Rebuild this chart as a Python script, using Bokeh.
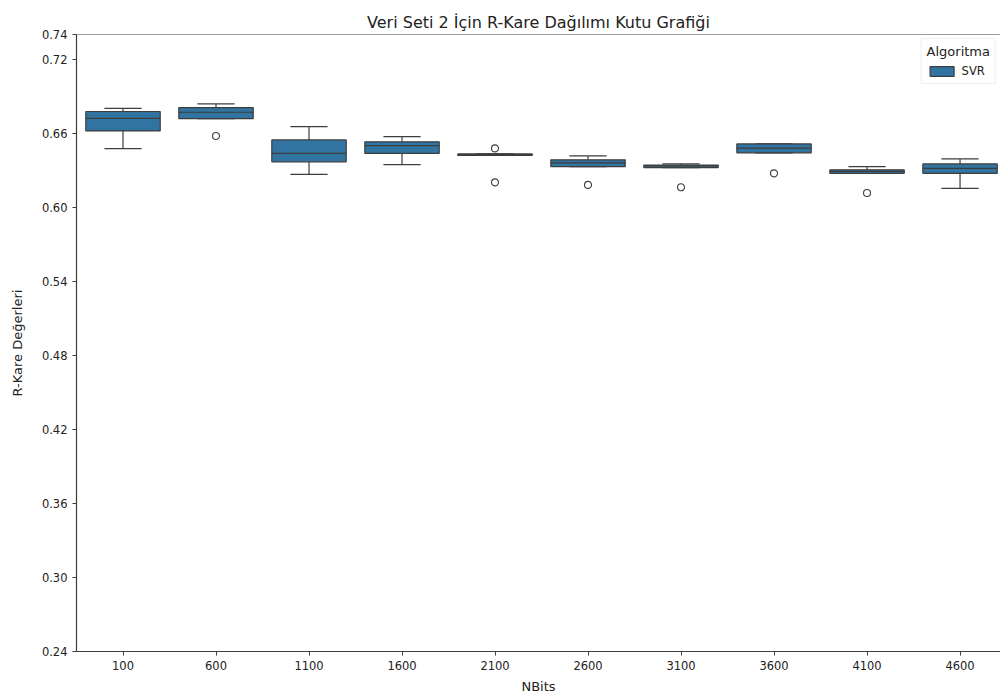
from bokeh.plotting import figure
from bokeh.models import Range1d, FixedTicker, Span, Legend, LegendItem, ColumnDataSource
from bokeh.embed import file_html
from bokeh.resources import INLINE

categories = ["100", "600", "1100", "1600", "2100", "2600", "3100", "3600", "4100", "4600"]
q1 = [0.6619, 0.6719, 0.6368, 0.6437, 0.6420, 0.6329, 0.6322, 0.6441, 0.6275, 0.6275]
median = [0.6720, 0.6770, 0.6437, 0.6500, 0.6427, 0.6360, 0.6335, 0.6480, 0.6290, 0.6315]
q3 = [0.6776, 0.6808, 0.6546, 0.6530, 0.6432, 0.6384, 0.6342, 0.6513, 0.6303, 0.6351]
whisker_low = [0.6475, 0.6719, 0.6267, 0.6346, 0.6420, 0.6329, 0.6322, 0.6441, 0.6275, 0.6153]
whisker_high = [0.6802, 0.6838, 0.6654, 0.6573, 0.6432, 0.6416, 0.6352, 0.6513, 0.6329, 0.6392]
outlier_cat = ["600", "2100", "2100", "2600", "3100", "3600", "4100"]
outlier_val = [0.6578, 0.6477, 0.6202, 0.6181, 0.6162, 0.6275, 0.6116]
y_ticks = [0.24, 0.30, 0.36, 0.42, 0.48, 0.54, 0.60, 0.66, 0.72, 0.74]

FONT = "DejaVu Sans"
BOX = "#3274a1"
EDGE = "#3d3d3d"
TXT = "#222222"

xs = list(range(len(categories)))
idx = {c: i for i, c in enumerate(categories)}

p = figure(width=1000, height=696, output_backend="svg", toolbar_location=None,
           x_range=Range1d(-0.5, 9.435), y_range=Range1d(0.24, 0.74),
           min_border_left=76, min_border_right=0, min_border_top=34, min_border_bottom=45)
p.title.text = "Veri Seti 2 İçin R-Kare Dağılımı Kutu Grafiği"
p.title.align = "center"
p.title.text_font = FONT
p.title.text_font_size = "16px"
p.title.text_font_style = "normal"
p.title.text_color = TXT
p.title.standoff = 6
p.outline_line_color = None
p.xgrid.visible = False
p.ygrid.visible = False
p.background_fill_color = "white"

src = ColumnDataSource(dict(x=xs, q1=q1, q3=q3, med=median, lo=whisker_low, hi=whisker_high,
                            x0=[x - 0.4 for x in xs], x1=[x + 0.4 for x in xs],
                            c0=[x - 0.2 for x in xs], c1=[x + 0.2 for x in xs]))

# whiskers and caps
p.segment(x0="x", y0="q3", x1="x", y1="hi", source=src, line_color=EDGE, line_width=1.2)
p.segment(x0="x", y0="q1", x1="x", y1="lo", source=src, line_color=EDGE, line_width=1.2)
p.segment(x0="c0", y0="hi", x1="c1", y1="hi", source=src, line_color=EDGE, line_width=1.2)
p.segment(x0="c0", y0="lo", x1="c1", y1="lo", source=src, line_color=EDGE, line_width=1.2)
boxes = p.vbar(x="x", width=0.8, bottom="q1", top="q3", source=src,
               fill_color=BOX, line_color=EDGE, line_width=1.2)
p.segment(x0="x0", y0="med", x1="x1", y1="med", source=src, line_color=EDGE, line_width=1.2)

p.scatter([idx[c] for c in outlier_cat], outlier_val, marker="circle", size=7,
          fill_color="white", line_color=EDGE, line_width=1.1)

top_spine = Span(location=0.74, dimension="width", line_color=EDGE, line_width=1.2)
p.add_layout(top_spine)

for ax in (p.xaxis[0], p.yaxis[0]):
    ax.axis_line_color = EDGE
    ax.axis_line_width = 1.2
    ax.major_tick_line_color = EDGE
    ax.major_tick_out = 4
    ax.major_tick_in = 0
    ax.minor_tick_line_color = None
    ax.major_label_text_font = FONT
    ax.major_label_text_font_size = "11.5px"
    ax.major_label_text_color = TXT
    ax.axis_label_text_font = FONT
    ax.axis_label_text_font_size = "13px"
    ax.axis_label_text_font_style = "normal"
    ax.axis_label_text_color = TXT

p.xaxis.ticker = FixedTicker(ticks=xs)
p.xaxis.major_label_overrides = {i: c for i, c in enumerate(categories)}
p.xaxis.axis_label = "NBits"
p.xaxis.axis_label_standoff = 6
p.yaxis.ticker = FixedTicker(ticks=y_ticks)
p.yaxis.major_label_overrides = {t: f"{t:.2f}" for t in y_ticks}
p.yaxis.axis_label = "R-Kare Değerleri"
p.yaxis.axis_label_standoff = 14

legend = Legend(items=[LegendItem(label="SVR", renderers=[boxes])], location="top_right")
legend.title = "Algoritma"
legend.title_text_font = FONT
legend.title_text_font_size = "13px"
legend.title_text_font_style = "normal"
legend.title_text_color = TXT
legend.label_text_font = FONT
legend.label_text_font_size = "11.5px"
legend.label_text_color = TXT
legend.glyph_width = 30
legend.glyph_height = 12
legend.border_line_color = "#dddddd"
legend.background_fill_alpha = 0.8
legend.padding = 5
legend.spacing = 2
legend.margin = 4
p.add_layout(legend)

open("out.html", "w").write(file_html(p, INLINE))
